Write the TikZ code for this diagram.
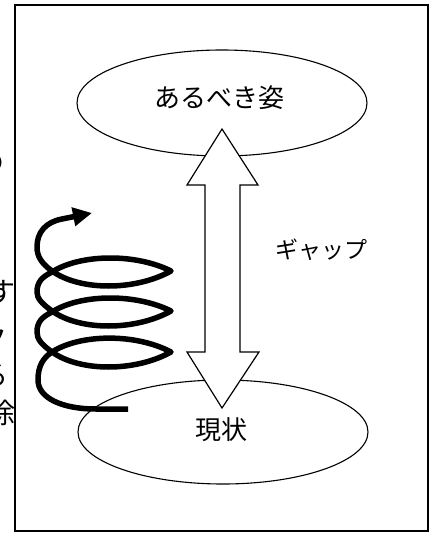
\documentclass[tikz,border=0pt]{standalone}
\usepackage{fontspec}
\newfontfamily\jp{Noto Sans CJK JP}
\usetikzlibrary{shapes.geometric,arrows.meta}
\tikzset{
  oval/.style={draw=black,line width=1.1pt,ellipse,inner sep=0pt,fill=none},
  lbl/.style={inner sep=0pt,font=\jp\fontsize{26}{26}\selectfont},
  gaplbl/.style={inner sep=0pt,font=\jp\fontsize{23}{23}\selectfont},
  edgechar/.style={inner sep=0pt,anchor=east,font=\jp\fontsize{28}{28}\selectfont},
  coil/.style={line width=5.5pt,black,line cap=butt,line join=round},
  bigarrow/.style={draw=black,fill=white,line width=1.2pt,line join=miter}
}
\begin{document}
\begin{tikzpicture}[x=1pt,y=-1pt]
\useasboundingbox (0,0) rectangle (430,534);
\clip (0,0) rectangle (430,534);
% partially visible text at the left edge
\node[edgechar] (c1) at (5,163) {の};
\node[edgechar] (c2) at (16,292) {す};
\node[edgechar] (c3) at (8,338) {ク};
\node[edgechar] (c4) at (9,376) {る};
\node[edgechar] (c5) at (16,413) {除};
% frame
\draw[line width=1.5pt] (15,5) rectangle (428,531);
% ellipses
\node[oval,minimum width=290pt,minimum height=106pt] (ideal) at (222,103) {};
\node[oval,minimum width=290pt,minimum height=104pt] (now) at (223,432) {};
\node[lbl] (idealtxt) at (219,98) {あるべき姿};
\node[lbl] (nowtxt) at (221,430) {現状};
% double arrow
\draw[bigarrow] (222,129) -- (258,185) -- (240,185) -- (240,352) -- (259,352)
  -- (222,408) -- (187,352) -- (205,352) -- (205,185) -- (187,185) -- cycle;
\node[gaplbl] (gap) at (321,250) {ギャップ};
% coil
\draw[coil,-{Triangle[length=19pt,width=18pt]}]
  (128,409) -- (96,409)
  .. controls (62,409) and (38,398) .. (38,380)
  .. controls (38,366) and (43,358) .. (52,352)
  .. controls (80,334) and (135,333) .. (171,352)
  .. controls (135,372) and (80,372) .. (52,352)
  .. controls (41,344) and (37,339) .. (37,332)
  .. controls (37,322) and (42,317) .. (52,312)
  .. controls (80,294) and (135,293) .. (171,311)
  .. controls (135,331) and (80,331) .. (52,311)
  .. controls (41,303) and (37,298) .. (37,292)
  .. controls (37,282) and (42,277) .. (52,272)
  .. controls (80,254) and (135,253) .. (171,271)
  .. controls (135,291) and (80,291) .. (52,271)
  .. controls (41,263) and (37,256) .. (37,247)
  .. controls (37,232) and (46,222) .. (62,219)
  -- (92,213);
\end{tikzpicture}
\end{document}
